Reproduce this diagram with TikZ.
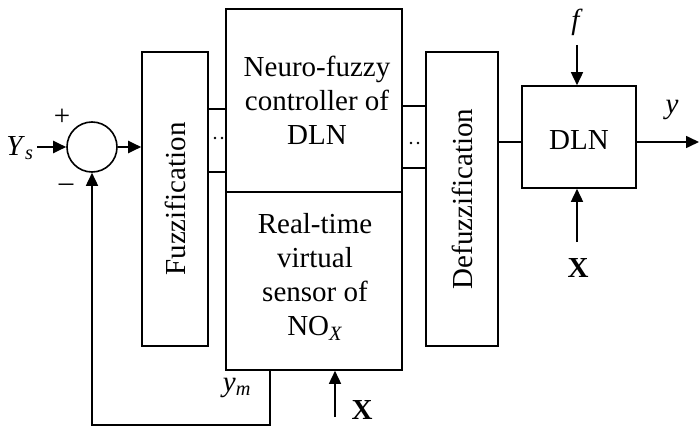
\documentclass[tikz,border=0pt]{standalone}
\usepackage{fontspec}
\setmainfont{Liberation Serif}
\usetikzlibrary{arrows.meta}
\begin{document}
\begin{tikzpicture}[x=1pt,y=-1pt,
  line width=1.6pt,
  box/.style={draw,rectangle,inner sep=0pt,align=center},
  lbl/.style={inner sep=0pt,font=\fontsize{29}{34}\selectfont},
  arr/.style={-{Triangle[length=13pt,width=12pt]}},
  dotc/.style={circle,fill,inner sep=0pt,minimum size=2.8pt}]
\useasboundingbox (0,0) rectangle (699,428);
% blocks
\node[circle,draw,minimum size=50pt,inner sep=0pt] (sum) at (92,147) {};
\node[box,minimum width=66pt,minimum height=294pt] (fuzz) at (175,199) {};
\node[lbl,rotate=90] (fuzzt) at (175,199) {Fuzzification};
\node[box,minimum width=176pt,minimum height=183pt] (nf) at (314,100.5) {};
\node[lbl,align=center] (nft) at (317,100) {Neuro-fuzzy\\controller of\\DLN};
\node[box,minimum width=176pt,minimum height=178pt] (rt) at (314,281) {};
\node[lbl,align=center] (rtt) at (315,277) {Real-time\\virtual\\sensor of\\NO\textsubscript{\textit{X}}};
\node[box,minimum width=72pt,minimum height=294pt] (defuzz) at (462,199) {};
\node[lbl,rotate=90] (defuzzt) at (462,199) {Defuzzification};
\node[box,minimum width=114pt,minimum height=102pt] (dln) at (579,137) {};
\node[lbl] (dlnt) at (579,140) {DLN};
% labels
\node[lbl] (ys) at (20,148) {\textit{Y}\textsubscript{\textit{s}}};
\node[lbl] (plus) at (62,117) {+};
\node[lbl] (minus) at (66,188) {–};
\node[lbl] (f) at (577,22) {\textit{f}};
\node[lbl] (y) at (672,110) {\textit{y}};
\node[lbl] (xr) at (578,268) {\textbf{X}};
\node[lbl] (xb) at (362,410) {\textbf{X}};
\node[lbl] (ym) at (237,388) {\textit{y}\textsubscript{\textit{m}}};
% coordinates
\coordinate (ysS) at (37,147);
\coordinate (fS) at (577,45);
\coordinate (xrS) at (577,242);
\coordinate (xbS) at (335,417);
\coordinate (yE) at (699,142);
\coordinate (fb1) at (270,425);
\coordinate (fb2) at (92,425);
% connectors
\draw[arr,line width=2.4pt] (ysS) -- (sum.west);
\draw[arr,line width=2.2pt] (sum.east) -- (sum.east -| fuzz.west);
\draw (208,109) -- (226,109);
\draw (208,172) -- (226,172);
\draw (402,106) -- (426,106);
\draw (402,168) -- (426,168);
\draw (498,142) -- (522,142);
\draw[arr] (636,142) -- (yE);
\draw[arr] (fS) -- (dln.north -| fS);
\draw[arr] (xrS) -- (dln.south -| xrS);
\draw[arr] (xbS) -- (rt.south -| xbS);
\draw[arr] (rt.south -| fb1) -- (fb1) -- (fb2) -- (sum.south);
% dots
\node[dotc] (d1) at (215,138) {};
\node[dotc] (d2) at (222,138) {};
\node[dotc] (d3) at (411,143) {};
\node[dotc] (d4) at (418,143) {};
\end{tikzpicture}
\end{document}
